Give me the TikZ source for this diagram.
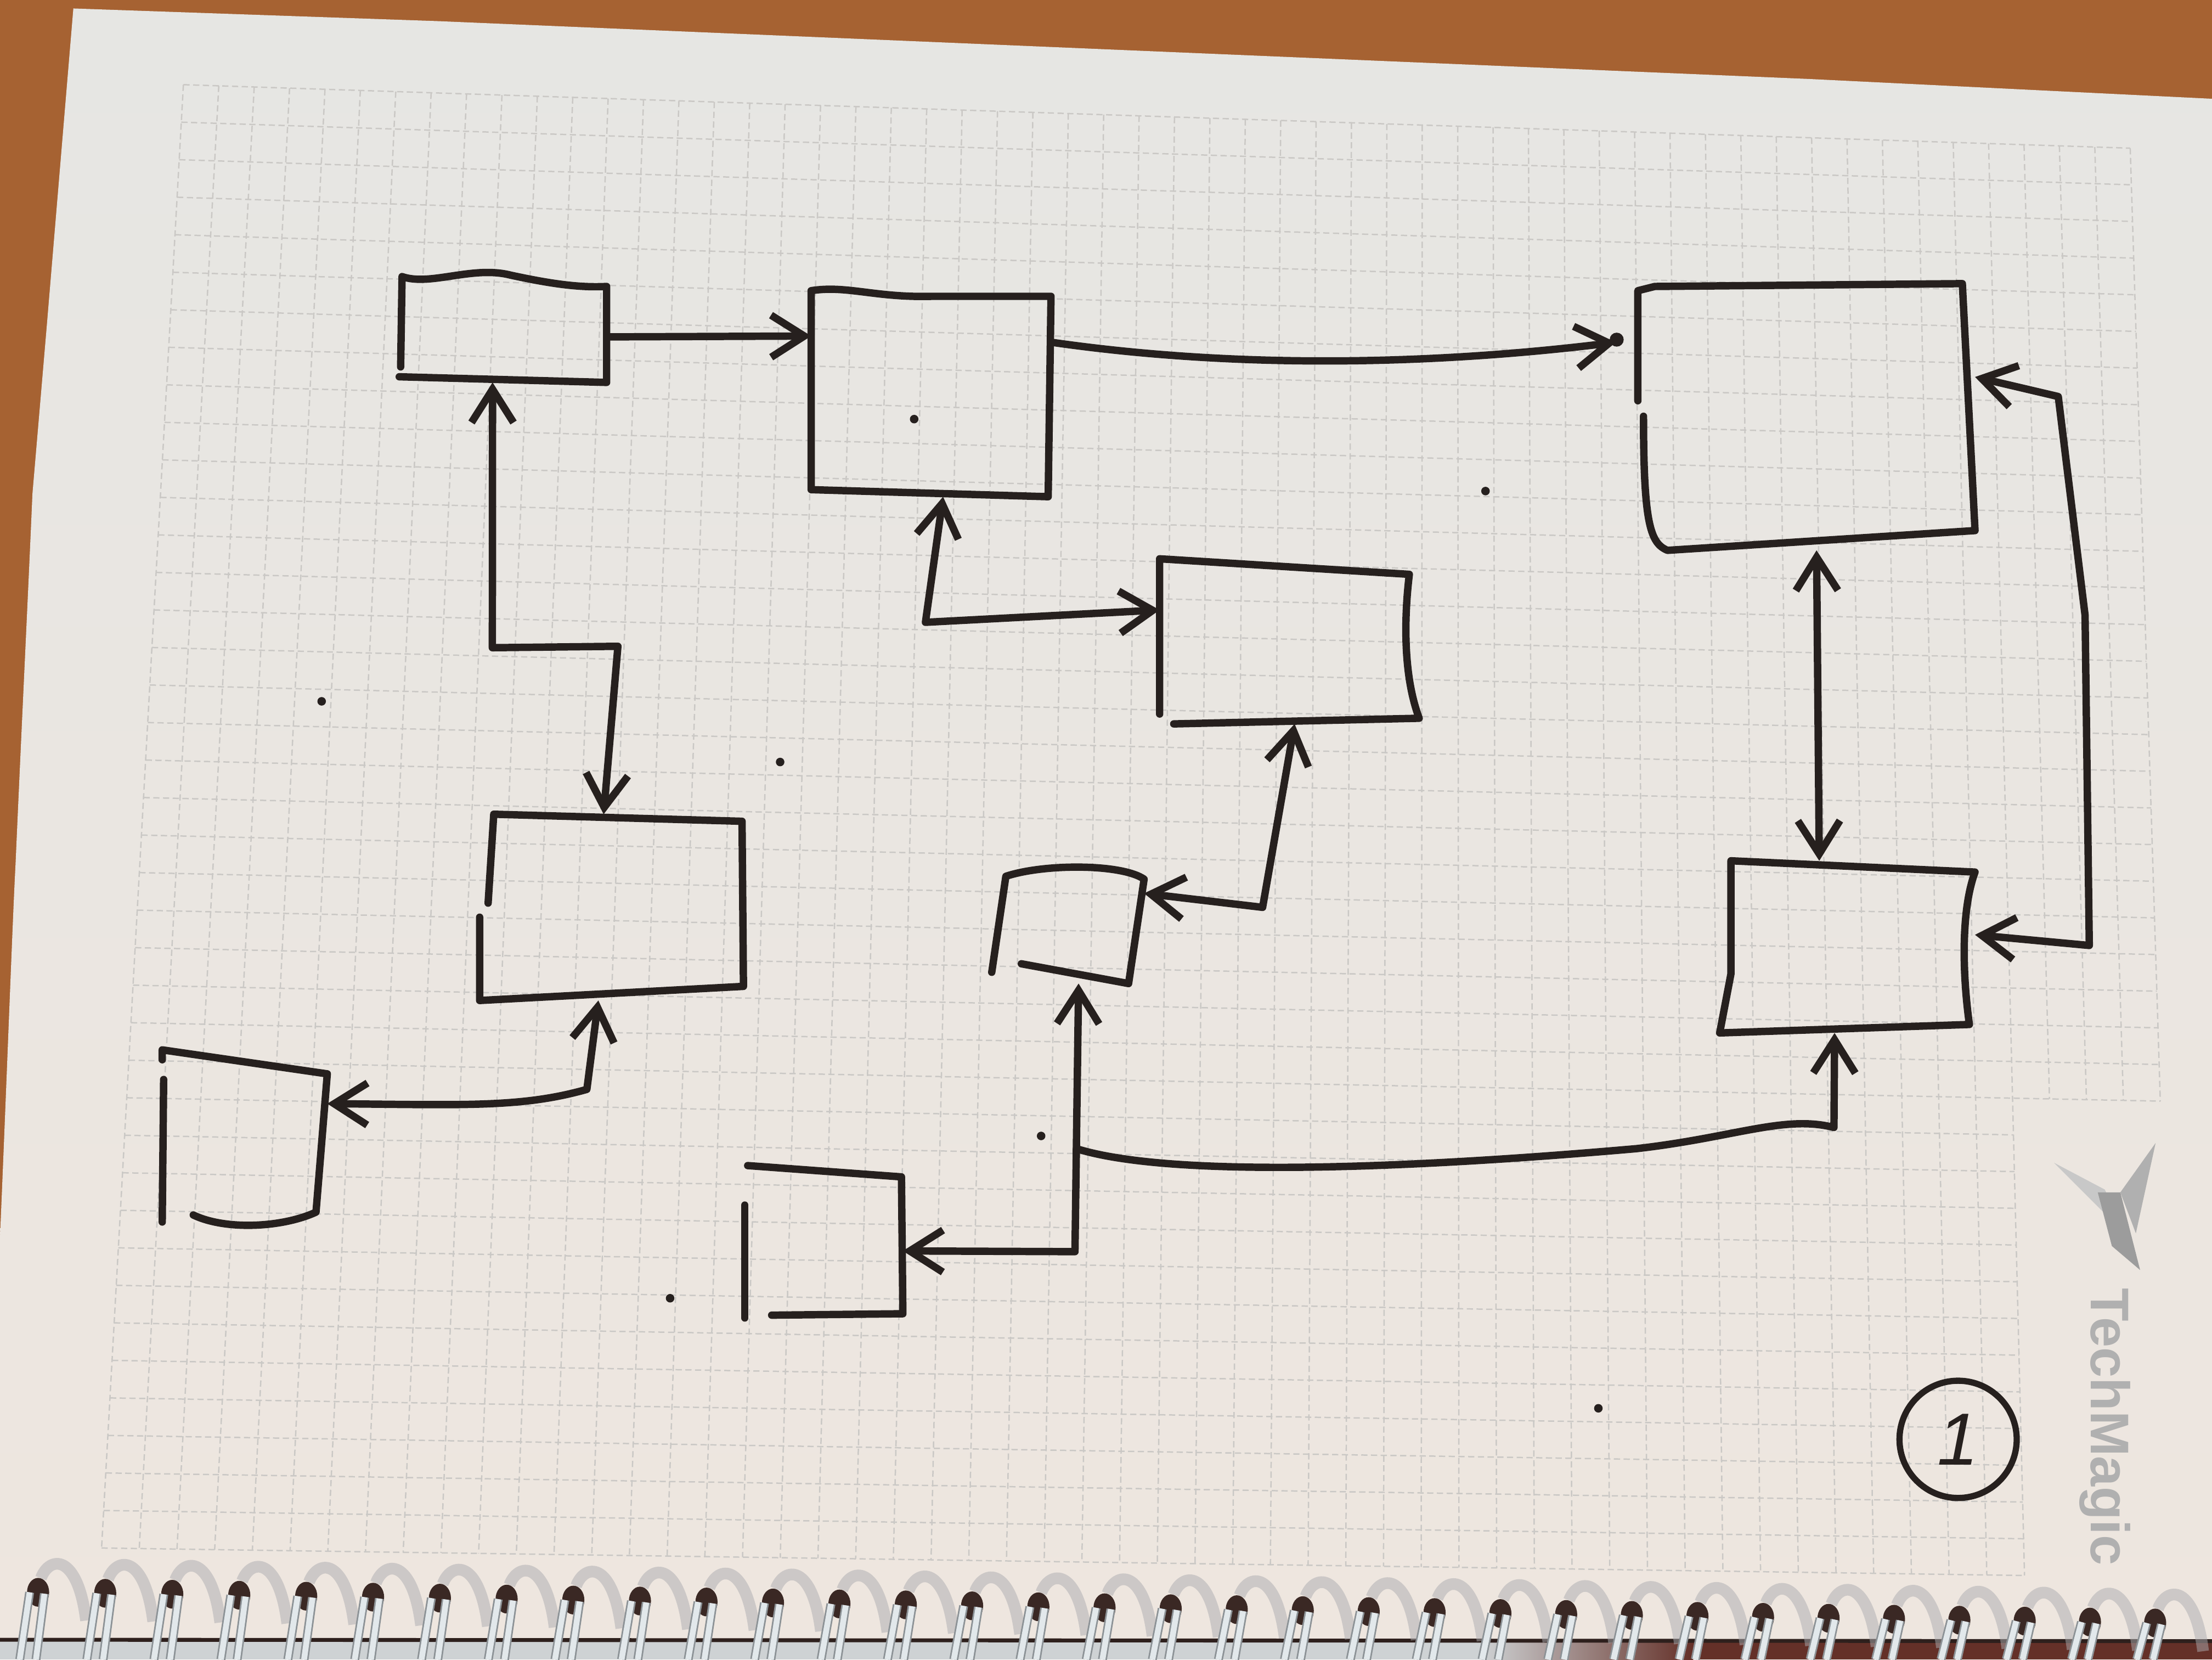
\documentclass[tikz,border=0pt]{standalone}
\usepackage{fontspec}
\setmainfont{Liberation Sans}
\usetikzlibrary{arrows.meta,calc,fit}

\definecolor{wood}{RGB}{166,98,50}
\definecolor{papertop}{RGB}{230,230,227}
\definecolor{paperbot}{RGB}{238,230,223}
\definecolor{gridline}{RGB}{202,200,197}
\definecolor{ink}{RGB}{38,32,30}
\definecolor{logolight}{RGB}{200,200,200}
\definecolor{logomid}{RGB}{176,176,176}
\definecolor{logodark}{RGB}{156,156,156}
\definecolor{wire}{RGB}{226,232,235}
\definecolor{wireedge}{RGB}{140,146,150}
\definecolor{hole}{RGB}{58,40,36}
\definecolor{coilshadow}{RGB}{172,172,176}
\definecolor{coverlight}{RGB}{206,210,212}
\definecolor{coverdark}{RGB}{100,48,40}

\tikzset{
  pen/.style={draw=ink, line width=1.9pt, line cap=round, line join=round},
  slot/.style={inner sep=0pt, outer sep=0pt},
  gridrule/.style={draw=gridline, line width=0.35pt, dash pattern=on 1.6pt off 0.9pt},
}

\begin{document}
\begin{tikzpicture}[x=0.012755cm, y=-0.012755cm,
  >={Straight Barb[length=3mm,width=3.8mm]}]
\useasboundingbox (0,0) rectangle (1568,1176);

% desk
\fill[wood] (0,0) rectangle (1568,1176);

% notebook sheet
\shade[top color=papertop, bottom color=paperbot]
  (52,6) -- (311,15) -- (1283,56) -- (1568,70) -- (1568,1176) -- (0,1176) -- (0,877)
  .. controls (5,760) and (9,650) .. (11,613)
  .. controls (16,500) and (20,420) .. (23,350) -- (33,233) -- cycle;

% squared ruling; the lower right corner is left free for the brand mark
\foreach \i in {0,...,55}{
  \pgfmathsetmacro{\t}{\i/55}
  \pgfmathsetmacro{\xa}{130+\t*1380}
  \pgfmathsetmacro{\ya}{60+\t*45}
  \pgfmathsetmacro{\xb}{72+\t*1470}
  \pgfmathsetmacro{\yb}{1097+\t*21}
  \ifnum\i>51
    \pgfmathsetmacro{\xb}{\xa+(\xb-\xa)*0.6667}
    \pgfmathsetmacro{\yb}{\ya+(\yb-\ya)*0.6667}
  \fi
  \draw[gridrule] (\xa,\ya) -- (\xb,\yb);
}
\foreach \j in {0,...,39}{
  \pgfmathsetmacro{\s}{\j/39}
  \pgfmathsetmacro{\xl}{130-\s*58}
  \pgfmathsetmacro{\yl}{60+\s*1037}
  \pgfmathsetmacro{\xr}{1510+\s*32}
  \pgfmathsetmacro{\yr}{105+\s*1013}
  \ifnum\j>26
    \pgfmathsetmacro{\xr}{\xl+(\xr-\xl)*0.9273}
    \pgfmathsetmacro{\yr}{\yl+(\yr-\yl)*0.9273}
  \fi
  \draw[gridrule] (\xl,\yl) -- (\xr,\yr);
}

% brand mark
\fill[logolight] (1456,824) -- (1492,843) -- (1508,876) -- cycle;
\fill[logomid] (1528,810) -- (1503,845) -- (1514,874) -- cycle;
\fill[logodark] (1487,845) -- (1503,845) -- (1517,900) -- (1497,883) -- cycle;
\node[rotate=-90, text=logomid, font=\fontsize{14}{14}\selectfont\bfseries]
  (brand) at (1492,1011) {TechMagic};

% stray ink specks
\foreach \p in {(648,297),(1053,348),(553,540),(738,805),(475,920),(1133,998),(228,497)}
  \fill[ink] \p circle (1.1pt);

% boxes: named slots for the connectors, outlines drawn by hand
\node[slot, fit={(283,196) (430,271)}] (A) {};
\node[slot, fit={(575,206) (745,352)}] (B) {};
\node[slot, fit={(1161,201) (1400,390)}] (C) {};
\node[slot, fit={(822,396) (1006,513)}] (D) {};
\node[slot, fit={(340,577) (527,709)}] (E) {};
\node[slot, fit={(115,744) (232,867)}] (F) {};
\node[slot, fit={(703,614) (811,697)}] (G) {};
\node[slot, fit={(528,826) (640,934)}] (H) {};
\node[slot, fit={(1219,610) (1400,732)}] (I) {};

\draw[pen] (284,260) -- (285,196) .. controls (305,203) and (335,188) .. (362,195)
  .. controls (390,201) and (410,204) .. (430,203) -- (430,271) -- (283,267);
\draw[pen] (575,347) -- (575,206) .. controls (600,202) and (620,211) .. (660,210)
  -- (745,210) -- (743,352) -- cycle;
\draw[pen] (1161,284) -- (1161,206) -- (1173,203) -- (1391,201) -- (1400,376)
  -- (1182,390) .. controls (1170,385) and (1165,372) .. (1165,295);
\draw[pen] (822,506) -- (822,396) -- (999,407)
  .. controls (995,440) and (995,480) .. (1006,509) -- (832,513);
\draw[pen] (346,640) -- (350,577) -- (526,582) -- (527,699) -- (340,709) -- (340,650);
\draw[pen] (115,751) -- (115,744) -- (232,761) -- (224,859)
  .. controls (200,870) and (160,872) .. (137,861);
\draw[pen] (116,765) -- (115,866);
\draw[pen] (724,683) -- (800,697) -- (811,623)
  .. controls (795,612) and (740,612) .. (713,621) -- (703,689);
\draw[pen] (530,826) -- (639,834) -- (640,931) -- (547,932);
\draw[pen] (528,854) -- (528,934);
\draw[pen] (1227,610) -- (1400,618) .. controls (1390,645) and (1391,690) .. (1396,726)
  -- (1219,732) -- (1227,690) -- cycle;

% bend points of the connectors
\coordinate (j1) at (349,459);
\coordinate (j2) at (438,458);
\coordinate (j3) at (656,441);
\coordinate (j4) at (895,643);
\coordinate (j5) at (416,772);
\coordinate (j6) at (762,887);
\coordinate (j7) at (763,814);
\coordinate (j8) at (1300,799);
\coordinate (k1) at (1459,281);
\coordinate (k2) at (1478,436);
\coordinate (k3) at (1481,670);

% connectors
\draw[pen,->] ($(A.north east)!0.57!(A.south east)$) -- ($(B.north west)!0.22!(B.south west)$);
\draw[pen,->,shorten >=0.2cm] ($(B.north east)!0.25!(B.south east)$)
  .. controls (880,262) and (1020,258) .. ($(C.north west)!0.21!(C.south west)$);
\fill[ink] ($(C.north west)!0.21!(C.south west)+(-15,0)$) circle (1.8pt);
\draw[pen,<->] ($(A.south west)!0.45!(A.south east)$) -- (j1) -- (j2)
  -- ($(E.north west)!0.47!(E.north east)$);
\draw[pen,<->] ($(B.south west)!0.55!(B.south east)$) -- (j3)
  -- ($(D.north west)!0.31!(D.south west)$);
\draw[pen,<->] ($(D.south west)!0.52!(D.south east)$) -- (j4)
  -- ($(G.north east)!0.23!(G.south east)$);
\draw[pen,<->] ($(E.south west)!0.45!(E.south east)$) -- (j5)
  .. controls (370,785) and (330,783) .. ($(F.north east)!0.31!(F.south east)$);
\draw[pen,<->] ($(G.south west)!0.57!(G.south east)$) -- (j6)
  -- ($(H.north east)!0.56!(H.south east)$);
\draw[pen,->] (j7) .. controls (830,835) and (1000,828) .. (1160,814)
  .. controls (1230,806) and (1265,790) .. (j8)
  -- ($(I.south west)!0.45!(I.south east)$);
\draw[pen,<->] ($(C.south west)!0.53!(C.south east)$)
  -- ($(I.north west)!0.39!(I.north east)$);
\draw[pen,<->] ($(C.north east)!0.35!(C.south east)$) -- (k1) -- (k2) -- (k3)
  -- ($(I.north east)!0.43!(I.south east)$);

% page number
\node[pen, line width=1.6pt, circle, minimum size=1.06cm, inner sep=0pt, text=ink,
  font=\fontsize{19}{19}\selectfont\itshape] (num) at (1388,1020) {1};

% spiral binding
\fill[coverlight] (0,1162) rectangle (1050,1176);
\shade[left color=coverlight, right color=coverdark] (1050,1162) rectangle (1200,1176);
\fill[coverdark] (1200,1162) rectangle (1568,1176);
\draw[hole!80!black, line width=1pt] (0,1162) -- (1568,1163);
\foreach \k in {0,...,32}{
  \pgfmathsetmacro{\hx}{27+47.6*\k-0.022*\k*\k}
  \pgfmathsetmacro{\hy}{1128+0.0145*\hx}
  \draw[coilshadow, opacity=0.5, line width=3pt]
    (\hx+2,\hy-10) .. controls (\hx+8,\hy-26) and (\hx+28,\hy-28) .. (\hx+34,\hy+20);
  \fill[hole] (\hx,\hy) ellipse [x radius=0.1cm, y radius=0.13cm];
  \draw[wireedge, line width=2.3pt] (\hx-6,\hy) -- (\hx-13,1176);
  \draw[wire, line width=1.5pt] (\hx-6,\hy) -- (\hx-13,1176);
  \draw[wireedge, line width=2.3pt] (\hx+4.5,\hy+1) -- (\hx-1.5,1176);
  \draw[wire, line width=1.5pt] (\hx+4.5,\hy+1) -- (\hx-1.5,1176);
}
\end{tikzpicture}
\end{document}
